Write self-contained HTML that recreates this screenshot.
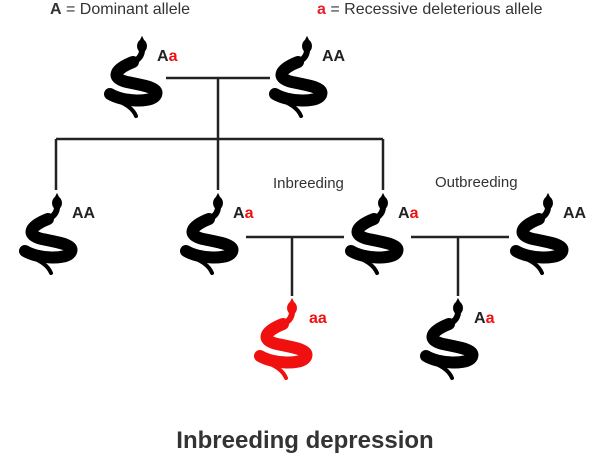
<!DOCTYPE html>
<html><head><style>
html,body{margin:0;padding:0;background:#fff;}
svg{display:block;}
text{font-family:"Liberation Sans",sans-serif;}
</style></head><body>
<svg width="600" height="455" viewBox="0 0 600 455">
<defs>
<g id="sn">
<path d="M41,12 C41,18 37,22 31,25" fill="none" stroke-width="6" stroke-linecap="round"/>
<path d="M32,24 C14,31 9,40 26,44 C46,48 58,50 55,57 C51,65 22,64 9,56" fill="none" stroke-width="12" stroke-linecap="round"/>
<path d="M8,57 C16,64 30,66 35,78" fill="none" stroke-width="4" stroke-linecap="round"/>
<ellipse cx="41" cy="8" rx="4.5" ry="6"/>
<path d="M39,3 L41,-1 L43,3 Z"/>
</g>
</defs>
<text x="50" y="14" font-size="16" fill="#333"><tspan font-weight="bold">A</tspan> = Dominant allele</text>
<text x="317" y="14" font-size="16" fill="#333"><tspan font-weight="bold" fill="#e8202a">a</tspan> = Recessive deleterious allele</text>

<g stroke="#222" stroke-width="2.5" fill="none">
<line x1="166" y1="78" x2="270" y2="78"/>
<line x1="218" y1="78" x2="218" y2="139"/>
<line x1="56" y1="139" x2="383" y2="139"/>
<line x1="56" y1="139" x2="56" y2="190"/>
<line x1="218" y1="139" x2="218" y2="190"/>
<line x1="383" y1="139" x2="383" y2="190"/>
<line x1="246" y1="237" x2="344" y2="237"/>
<line x1="292" y1="237" x2="292" y2="296"/>
<line x1="411" y1="237" x2="509" y2="237"/>
<line x1="458" y1="237" x2="458" y2="296"/>
</g>

<g fill="#000" stroke="#000">
<use href="#sn" x="101" y="38"/>
<use href="#sn" x="266" y="38"/>
<use href="#sn" x="16" y="195"/>
<use href="#sn" x="177" y="195"/>
<use href="#sn" x="342" y="195"/>
<use href="#sn" x="507" y="195"/>
<use href="#sn" x="417" y="300"/>
</g>
<g fill="#f01010" stroke="#f01010">
<use href="#sn" x="251" y="300"/>
</g>

<g font-size="16" font-weight="bold" fill="#222">
<text x="157" y="61">A<tspan fill="#f01010">a</tspan></text>
<text x="322" y="61">AA</text>
<text x="72" y="218">AA</text>
<text x="233" y="218">A<tspan fill="#f01010">a</tspan></text>
<text x="398" y="218">A<tspan fill="#f01010">a</tspan></text>
<text x="563" y="218">AA</text>
<text x="309" y="323" fill="#f01010">aa</text>
<text x="474" y="323">A<tspan fill="#f01010">a</tspan></text>
</g>

<text x="273" y="188" font-size="15" fill="#333">Inbreeding</text>
<text x="435" y="187" font-size="15" fill="#333">Outbreeding</text>
<text x="305" y="448" font-size="24" font-weight="bold" fill="#333" text-anchor="middle">Inbreeding depression</text>
</svg>
</body></html>
